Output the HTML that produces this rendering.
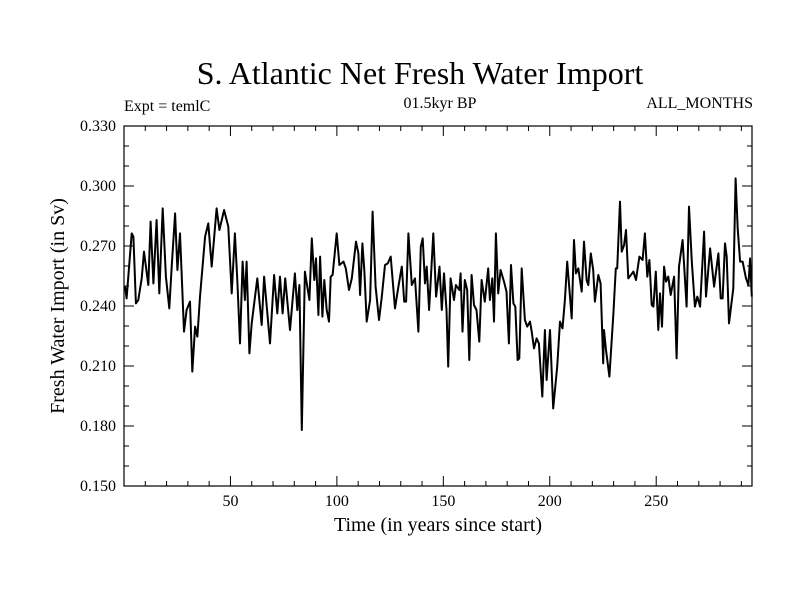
<!DOCTYPE html>
<html><head><meta charset="utf-8"><style>
html,body{margin:0;padding:0;background:#fff;}
svg{display:block;font-family:"Liberation Serif",serif;}
</style></head><body>
<svg id="chart" width="800" height="600" viewBox="0 0 800 600" xmlns="http://www.w3.org/2000/svg">
<text x="420" y="84" text-anchor="middle" font-size="32">S. Atlantic Net Fresh Water Import</text>
<text x="124" y="111" font-size="16">Expt = temlC</text>
<text x="440" y="108" text-anchor="middle" font-size="16">01.5kyr BP</text>
<text x="753" y="108" text-anchor="end" font-size="16">ALL_MONTHS</text>
<text transform="translate(64,306) rotate(-90)" text-anchor="middle" font-size="20">Fresh Water Import (in Sv)</text>
<text x="438" y="531" text-anchor="middle" font-size="20">Time (in years since start)</text>
<g id="axes"></g>
<path id="series" fill="none" stroke="#000" stroke-width="2" stroke-linejoin="round"/>
<rect x="124" y="126" width="628" height="360" fill="none" stroke="#000" stroke-width="1.2"/>
</svg>
<script>
const years=[0.5,1.2,3.6,4.4,5.6,6.7,8.3,9.4,11.4,12.5,13.8,15.3,16.6,18.2,19.7,21.3,22.4,24.0,25.1,26.3,28.2,29.4,31.0,32.1,33.4,34.5,35.7,38.1,39.6,41.2,43.5,44.8,47.0,49.0,50.6,52.1,53.2,54.5,55.7,56.8,57.6,58.9,60.0,62.6,64.7,65.8,68.6,70.5,72.0,73.3,74.5,
75.7,78.0,80.3,81.4,82.4,83.5,85.0,87.1,88.2,89.4,90.2,91.3,92.1,93.2,94.1,95.2,96.3,97.1,98.0,99.9,101.2,103.1,104.2,105.7,107.0,109.0,110.1,110.9,112.0,112.9,114.0,115.6,116.8,118.2,119.8,121.1,122.6,123.9,125.3,127.3,128.9,130.5,131.6,132.5,133.6,135.2,136.7,138.3,139.4,140.3,141.4,142.2,143.3,145.3,146.6,148.2,149.3,150.3,
151.5,152.3,153.4,155.0,155.9,157.5,158.1,159.0,160.1,161.2,162.2,163.3,164.4,165.6,166.9,168.0,169.5,171.1,171.9,173.0,173.8,174.7,175.8,176.9,178.5,179.7,180.8,181.8,182.9,183.8,184.9,185.7,186.8,188.3,189.4,190.7,191.5,192.6,193.8,194.9,196.5,197.7,198.5,200.1,201.6,203.5,204.8,206.0,207.1,208.2,209.5,210.3,211.4,212.3,213.4,215.0,216.1,217.3,218.1,219.3,220.4,221.2,222.8,223.9,225.1,
225.5,226.4,228.0,229.9,231.0,231.7,233.0,233.8,234.9,235.8,236.9,239.3,240.5,242.1,243.6,244.7,245.8,246.8,247.9,248.7,249.8,251.0,251.8,252.7,253.7,254.6,255.7,256.8,258.4,259.6,260.7,262.4,264.3,265.4,266.7,268.2,269.3,270.6,272.5,273.4,275.3,277.2,279.2,280.3,281.2,282.3,283.1,284.2,286.2,287.3,288.3,289.4,290.6,292.2,293.3,294.1,294.9];
const values=[0.2497,0.2438,0.2763,0.2747,0.2413,0.243,0.2538,0.2672,0.2505,0.2822,0.2513,0.283,0.2463,0.2888,0.2547,0.2388,0.2597,0.2863,0.258,0.2763,0.2272,0.238,0.2422,0.2072,0.2297,0.2247,0.2447,0.2747,0.2813,0.2597,0.2888,0.278,0.288,0.2797,0.2463,0.2763,0.253,0.2213,0.2622,0.243,0.2622,0.2163,0.2313,0.2538,0.2305,0.2547,0.2213,0.2555,0.2363,0.2547,0.2363,
0.2538,0.228,0.2563,0.238,0.2505,0.178,0.2572,0.243,0.2738,0.253,0.2638,0.2355,0.2647,0.2347,0.253,0.238,0.2322,0.2547,0.2555,0.2763,0.2605,0.2622,0.2588,0.248,0.2538,0.2722,0.2663,0.2455,0.2713,0.258,0.2322,0.243,0.2872,0.2497,0.233,0.2447,0.2605,0.2613,0.2647,0.2388,0.2497,0.2597,0.2422,0.2422,0.2763,0.2505,0.2538,0.2272,0.2697,0.2738,0.2513,0.2597,0.238,0.2763,0.2447,0.2597,0.238,0.2563,
0.238,0.2097,0.2538,0.243,0.2505,0.248,0.2563,0.2272,0.253,0.248,0.213,0.2555,0.2405,0.238,0.2222,0.253,0.2422,0.2588,0.243,0.2538,0.2322,0.2763,0.2463,0.258,0.2522,0.2472,0.2213,0.2605,0.2413,0.2397,0.213,0.2138,0.2588,0.233,0.2297,0.2322,0.2272,0.2188,0.2238,0.2213,0.1947,0.228,0.203,0.228,0.1888,0.2097,0.2322,0.2288,0.243,0.2622,0.2447,0.2338,0.273,0.2563,0.2588,0.2472,0.2722,0.253,0.2505,0.2663,0.258,0.2422,0.2555,0.2513,0.2113,
0.228,0.218,0.2047,0.2363,0.2588,0.2588,0.2922,0.2672,0.2705,0.278,0.2538,0.2572,0.253,0.2647,0.263,0.2763,0.2547,0.263,0.2405,0.2397,0.2572,0.228,0.2463,0.2297,0.2597,0.2522,0.2547,0.2455,0.2547,0.2138,0.2597,0.273,0.2397,0.2897,0.2622,0.2397,0.2447,0.2397,0.2772,0.2447,0.2688,0.2497,0.2663,0.2438,0.2438,0.2713,0.2647,0.2313,0.2488,0.3038,0.2788,0.2622,0.2622,0.2538,0.2505,0.2638,0.2447];
const yTicks=["0.150","0.180","0.210","0.240","0.270","0.300","0.330"];
const xTicks=[50,100,150,200,250];

const L=124,R=752,T=126,B=486,X0=0,X1=295,Y0=0.15,Y1=0.33;
const sx=v=>L+(v-X0)/(X1-X0)*(R-L);
const sy=v=>B-(v-Y0)/(Y1-Y0)*(B-T);
const NS="http://www.w3.org/2000/svg";
const axes=document.getElementById('axes');
function line(x1,y1,x2,y2){const l=document.createElementNS(NS,'line');l.setAttribute('x1',x1);l.setAttribute('y1',y1);l.setAttribute('x2',x2);l.setAttribute('y2',y2);l.setAttribute('stroke','#000');l.setAttribute('stroke-width','1');


axes.appendChild(l);}
function text(x,y,s,anchor,name){const t=document.createElementNS(NS,'text');t.setAttribute('x',x);t.setAttribute('y',y);t.setAttribute('text-anchor',anchor);t.setAttribute('font-size','16');t.textContent=s;


axes.appendChild(t);}
for(let v=0.15;v<=0.3301;v+=0.01){const y=sy(v);const major=Math.abs(((v-0.15)/0.03)-Math.round((v-0.15)/0.03))<1e-6;const len=major?10:5;line(L,y,L+len,y);line(R,y,R-len,y);}
yTicks.forEach(s=>{text(116,sy(parseFloat(s))+5,s,'end','y-tick-label');});
for(let v=10;v<=X1;v+=10){const x=sx(v);const len=(v%50===0)?10:5;line(x,B,x,B-len);line(x,T,x,T+len);}
xTicks.forEach(v=>{text(sx(v),506,String(v),'middle','x-tick-label');});
let d='';years.forEach((yr,i)=>{d+=(i?'L':'M')+sx(yr).toFixed(1)+' '+sy(values[i]).toFixed(1);});
document.getElementById('series').setAttribute('d',d);
</script>
</body></html>
